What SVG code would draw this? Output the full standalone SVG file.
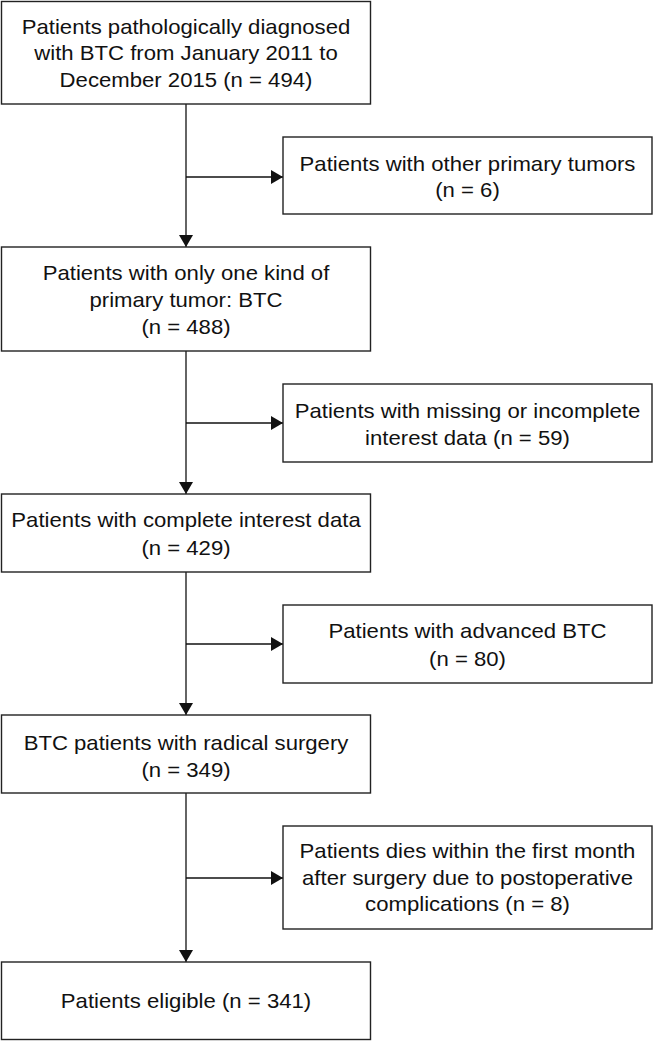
<svg xmlns="http://www.w3.org/2000/svg" width="654" height="1041" viewBox="0 0 654 1041">
<style>
.box{fill:#fff;stroke:#222;stroke-width:1.4}
.ln{fill:none;stroke:#111;stroke-width:1.3}
text{font-family:"Liberation Sans",Arial,sans-serif;font-size:20.5px;fill:#111;text-anchor:middle}
</style>
<defs>
<marker id="ah" markerUnits="userSpaceOnUse" markerWidth="12" markerHeight="14" refX="12" refY="7" orient="auto">
<path d="M0,0 L12,7 L0,14 z" fill="#111"/>
</marker>
</defs>
<rect width="654" height="1041" fill="#fff"/>
<g id="connectors">
<line class="ln" x1="186" y1="104" x2="186" y2="247" marker-end="url(#ah)"/>
<line class="ln" x1="186" y1="177" x2="283" y2="177" marker-end="url(#ah)"/>
<line class="ln" x1="186" y1="351" x2="186" y2="494" marker-end="url(#ah)"/>
<line class="ln" x1="186" y1="423" x2="283" y2="423" marker-end="url(#ah)"/>
<line class="ln" x1="186" y1="572" x2="186" y2="715" marker-end="url(#ah)"/>
<line class="ln" x1="186" y1="644" x2="283" y2="644" marker-end="url(#ah)"/>
<line class="ln" x1="186" y1="793" x2="186" y2="962" marker-end="url(#ah)"/>
<line class="ln" x1="186" y1="878" x2="283" y2="878" marker-end="url(#ah)"/>
</g>
<g id="n1">
<rect class="box" x="1.5" y="1.5" width="369" height="102.5"/>
<text transform="translate(186,0) scale(1.08,1)" x="0" y="34">Patients pathologically diagnosed</text>
<text transform="translate(186,0) scale(1.08,1)" x="0" y="60.5">with BTC from January 2011 to</text>
<text transform="translate(186,0) scale(1.08,1)" x="0" y="87">December 2015 (n = 494)</text>
</g>
<g id="s1">
<rect class="box" x="283" y="137" width="369" height="77"/>
<text transform="translate(467.5,0) scale(1.08,1)" x="0" y="171">Patients with other primary tumors</text>
<text transform="translate(467.5,0) scale(1.08,1)" x="0" y="197">(n = 6)</text>
</g>
<g id="n2">
<rect class="box" x="1.5" y="247" width="369" height="104"/>
<text transform="translate(186,0) scale(1.08,1)" x="0" y="280">Patients with only one kind of</text>
<text transform="translate(186,0) scale(1.08,1)" x="0" y="307">primary tumor: BTC</text>
<text transform="translate(186,0) scale(1.08,1)" x="0" y="334">(n = 488)</text>
</g>
<g id="s2">
<rect class="box" x="283" y="384" width="369" height="78"/>
<text transform="translate(467.5,0) scale(1.08,1)" x="0" y="418">Patients with missing or incomplete</text>
<text transform="translate(467.5,0) scale(1.08,1)" x="0" y="445">interest data (n = 59)</text>
</g>
<g id="n3">
<rect class="box" x="1.5" y="494" width="369" height="78"/>
<text transform="translate(186,0) scale(1.08,1)" x="0" y="527">Patients with complete interest data</text>
<text transform="translate(186,0) scale(1.08,1)" x="0" y="555.5">(n = 429)</text>
</g>
<g id="s3">
<rect class="box" x="283" y="605" width="369" height="78"/>
<text transform="translate(467.5,0) scale(1.08,1)" x="0" y="638">Patients with advanced BTC</text>
<text transform="translate(467.5,0) scale(1.08,1)" x="0" y="666">(n = 80)</text>
</g>
<g id="n4">
<rect class="box" x="1.5" y="715" width="369" height="78"/>
<text transform="translate(186,0) scale(1.08,1)" x="0" y="750">BTC patients with radical surgery</text>
<text transform="translate(186,0) scale(1.08,1)" x="0" y="777">(n = 349)</text>
</g>
<g id="s4">
<rect class="box" x="283" y="826" width="369" height="103"/>
<text transform="translate(467.5,0) scale(1.08,1)" x="0" y="858">Patients dies within the first month</text>
<text transform="translate(467.5,0) scale(1.08,1)" x="0" y="885">after surgery due to postoperative</text>
<text transform="translate(467.5,0) scale(1.08,1)" x="0" y="911.5">complications (n = 8)</text>
</g>
<g id="n5">
<rect class="box" x="1.5" y="962" width="369" height="77.5"/>
<text transform="translate(186,0) scale(1.08,1)" x="0" y="1008">Patients eligible (n = 341)</text>
</g>
</svg>
